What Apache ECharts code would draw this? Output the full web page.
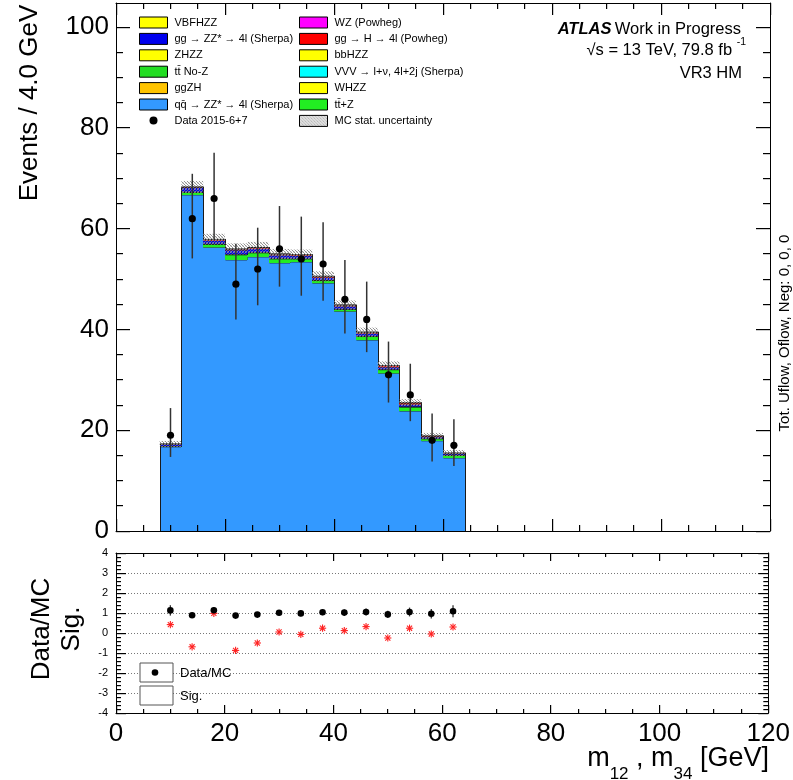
<!DOCTYPE html>
<html><head><meta charset="utf-8">
<script src="https://cdn.jsdelivr.net/npm/echarts@6/dist/echarts.min.js"></script>
<style>html,body{margin:0;padding:0;background:#fff}#c{width:793px;height:780px}</style>
</head><body><div id="c"></div>
<script>
// ---------------- data ----------------
const binLo = [8, 12, 16, 20, 24, 28, 32, 36, 40, 44, 48, 52, 56, 60];
const binWidth = 4;
const xTicks = [0, 20, 40, 60, 80, 100, 120];

// MC components (events per bin)
const qqZZ   = [16.7, 66.7, 56.3, 53.8, 54.4, 53.2, 53.4, 49.2, 43.6, 37.9, 31.3, 23.8, 17.9, 14.5];
const ttZ    = [0.15, 0.5, 0.6, 1.0, 0.8, 0.8, 0.6, 0.5, 0.4, 0.7, 0.7, 0.8, 0.4, 0.5];
const ttNoZ  = [0.02, 0.08, 0.08, 0.08, 0.08, 0.08, 0.06, 0.06, 0.05, 0.06, 0.06, 0.06, 0.04, 0.04];
const VVV    = [0.01, 0.02, 0.02, 0.02, 0.02, 0.02, 0.02, 0.02, 0.02, 0.02, 0.02, 0.02, 0.01, 0.01];
const ggZH   = [0.00, 0.01, 0.01, 0.01, 0.01, 0.01, 0.01, 0.01, 0.01, 0.01, 0.01, 0.01, 0.01, 0.01];
const WHZZ   = [0.00, 0.01, 0.01, 0.01, 0.01, 0.01, 0.01, 0.01, 0.01, 0.01, 0.01, 0.01, 0.01, 0.01];
const bbHZZ  = [0.00, 0.01, 0.01, 0.01, 0.01, 0.01, 0.01, 0.01, 0.01, 0.01, 0.01, 0.01, 0.01, 0.01];
const ZHZZ   = [0.00, 0.01, 0.01, 0.01, 0.01, 0.01, 0.01, 0.01, 0.01, 0.01, 0.01, 0.01, 0.01, 0.01];
const ggZZ   = [0.35, 0.8, 0.6, 0.8, 0.7, 0.6, 0.5, 0.5, 0.5, 0.5, 0.4, 0.4, 0.25, 0.2];
const ggH    = [0.02, 0.1, 0.2, 0.2, 0.2, 0.2, 0.2, 0.2, 0.2, 0.2, 0.3, 0.3, 0.2, 0.15];
const WZ     = [0.02, 0.03, 0.03, 0.03, 0.03, 0.03, 0.03, 0.03, 0.03, 0.03, 0.03, 0.03, 0.02, 0.02];
const VBFHZZ = [0.00, 0.01, 0.01, 0.01, 0.01, 0.01, 0.01, 0.01, 0.01, 0.01, 0.01, 0.01, 0.01, 0.01];
const mcStatErr = [0.6, 1.2, 1.1, 1.1, 1.1, 1.0, 1.0, 1.0, 0.9, 0.9, 0.8, 0.7, 0.6, 0.6];

// Data
const dataCounts = [19, 62, 66, 49, 52, 56, 54, 53, 46, 42, 31, 27, 18, 17];
const dataErrLo  = [4.3, 7.9, 8.1, 7.0, 7.2, 7.5, 7.3, 7.3, 6.8, 6.5, 5.5, 5.2, 4.2, 4.1];
const dataErrHi  = [5.4, 8.9, 9.1, 8.0, 8.2, 8.5, 8.4, 8.3, 7.8, 7.5, 6.6, 6.2, 5.3, 5.2];

// Ratio panel
const ratioDataMC = [1.13, 0.89, 1.14, 0.87, 0.92, 1.01, 0.98, 1.04, 1.02, 1.05, 0.93, 1.05, 0.96, 1.09];
const ratioErr    = [0.26, 0.12, 0.15, 0.13, 0.13, 0.14, 0.14, 0.15, 0.16, 0.18, 0.18, 0.22, 0.24, 0.30];
const significance = [0.42, -0.69, 0.98, -0.87, -0.50, 0.05, -0.07, 0.24, 0.12, 0.32, -0.25, 0.24, -0.05, 0.30];

// Axis ranges / tick steps
const X_MIN = 0, X_MAX = 120, X_MAJOR = 20, X_MINOR = 5;
const Y_MAIN_MAX = 104.8;
const R_MIN = -4, R_MAX = 4, R_MAJOR = 1, R_MINOR = 0.2;

// Legend labels
const N_VBF = 'VBFHZZ', N_GGZZ = 'gg → ZZ* → 4l (Sherpa)', N_ZH = 'ZHZZ', N_TTNOZ = 'tt\u0304 No-Z',
      N_GGZH = 'ggZH', N_QQZZ = 'qq\u0304 → ZZ* → 4l (Sherpa)', N_WZ = 'WZ (Powheg)',
      N_GGH = 'gg → H → 4l (Powheg)', N_BBH = 'bbHZZ', N_VVV = 'VVV → l+ν, 4l+2j (Sherpa)',
      N_WH = 'WHZZ', N_TTZ = 'tt\u0304+Z', N_DATA = 'Data 2015-6+7', N_STAT = 'MC stat. uncertainty';

// ---------------- styling ----------------
const FONT = '"Liberation Sans", Arial, Helvetica, sans-serif';
const components = [ // bottom -> top
  {name: N_QQZZ, vals: qqZZ, color: '#3399ff'},
  {name: N_TTZ, vals: ttZ, color: '#22ee22'},
  {name: N_TTNOZ, vals: ttNoZ, color: '#22dd22'},
  {name: N_VVV, vals: VVV, color: '#00ffff'},
  {name: N_GGZH, vals: ggZH, color: '#ffc400'},
  {name: N_WH, vals: WHZZ, color: '#ffff00'},
  {name: N_BBH, vals: bbHZZ, color: '#ffff00'},
  {name: N_ZH, vals: ZHZZ, color: '#ffff00'},
  {name: N_GGZZ, vals: ggZZ, color: '#0000ee'},
  {name: N_GGH, vals: ggH, color: '#ff0000'},
  {name: N_WZ, vals: WZ, color: '#ff00ff'},
  {name: N_VBF, vals: VBFHZZ, color: '#ffff00'}
];

// hatch pattern for stat. uncertainty
const pc = document.createElement('canvas');
pc.width = 3; pc.height = 3;
const pctx = pc.getContext('2d');
pctx.fillStyle = 'rgba(120,120,120,0.8)';
pctx.fillRect(0,0,1,1); pctx.fillRect(1,1,1,1); pctx.fillRect(2,2,1,1);
pctx.fillStyle = 'rgba(205,205,205,0.55)';
pctx.fillRect(2,0,1,1); pctx.fillRect(0,2,1,1);
const hatch = {image: pc, repeat: 'repeat'};

function stepRender(params, api) {
  const x0 = api.value(0), x1 = api.value(1), y0 = api.value(2), y1 = api.value(3);
  const prevTop = api.value(4), nextTop = api.value(5), isLast = api.value(6);
  const a = api.coord([x0, y0]), b = api.coord([x1, y1]);
  const ax = Math.round(a[0]), bx = Math.round(b[0]);
  const pPrev = api.coord([x0, prevTop]);
  const pts = [[ax + 0.5, pPrev[1]], [ax + 0.5, b[1]], [bx + 0.5, b[1]]];
  if (isLast) pts.push([bx + 0.5, api.coord([x1, nextTop])[1]]);
  return {type: 'group', children: [
    {type: 'rect', shape: {x: ax, y: b[1], width: bx - ax + 0.6, height: a[1] - b[1]},
     style: {fill: api.visual('color')}},
    {type: 'polyline', shape: {points: pts}, style: {stroke: '#1a1a1a', lineWidth: 0.8, fill: null}}
  ]};
}

const series = [];
let base = binLo.map(() => 0);
components.forEach(c => {
  const tops = base.map((b, i) => b + c.vals[i]);
  const data = binLo.map((x, i) => [x, x + binWidth, base[i], tops[i],
    i === 0 ? 0 : tops[i - 1], 0, i === binLo.length - 1 ? 1 : 0]);
  series.push({type: 'custom', name: c.name, xAxisIndex: 0, yAxisIndex: 0,
    itemStyle: {color: c.color}, renderItem: stepRender, data: data,
    encode: {x: [0, 1], y: [2, 3]}, z: 2});
  base = tops;
});
const total = base;

series.push({type: 'custom', name: N_STAT, xAxisIndex: 0, yAxisIndex: 0, itemStyle: {color: hatch}, z: 3,
  data: binLo.map((x, i) => [x, x + binWidth, total[i] - mcStatErr[i], total[i] + mcStatErr[i]]),
  encode: {x: [0, 1], y: [2, 3]},
  renderItem: (p, api) => {
    const a = api.coord([api.value(0), api.value(2)]), b = api.coord([api.value(1), api.value(3)]);
    return {type: 'rect', shape: {x: a[0], y: b[1], width: b[0] - a[0], height: a[1] - b[1]},
      style: {fill: hatch}};
  }});

series.push({type: 'custom', name: N_DATA, xAxisIndex: 0, yAxisIndex: 0, itemStyle: {color: '#000'}, z: 5,
  data: binLo.map((x, i) => [x + binWidth / 2, dataCounts[i], dataErrLo[i], dataErrHi[i]]),
  encode: {x: 0, y: 1},
  renderItem: (p, api) => {
    const x = api.value(0), y = api.value(1);
    const c = api.coord([x, y]), lo = api.coord([x, y - api.value(2)]), hi = api.coord([x, y + api.value(3)]);
    return {type: 'group', children: [
      {type: 'line', shape: {x1: c[0], y1: lo[1], x2: c[0], y2: hi[1]}, style: {stroke: '#333', lineWidth: 1.5}},
      {type: 'circle', shape: {cx: c[0], cy: c[1], r: 3.6}, style: {fill: '#000'}}
    ]};
  }});

series.push({type: 'custom', name: 'Data/MC', xAxisIndex: 2, yAxisIndex: 2, z: 5,
  data: binLo.map((x, i) => [x + binWidth / 2, ratioDataMC[i], ratioErr[i]]),
  encode: {x: 0, y: 1},
  renderItem: (p, api) => {
    const x = api.value(0), y = api.value(1), e = api.value(2);
    const c = api.coord([x, y]), lo = api.coord([x, y - e]), hi = api.coord([x, y + e]);
    return {type: 'group', children: [
      {type: 'line', shape: {x1: c[0], y1: lo[1], x2: c[0], y2: hi[1]}, style: {stroke: '#333', lineWidth: 1.3}},
      {type: 'circle', shape: {cx: c[0], cy: c[1], r: 3.3}, style: {fill: '#000'}}
    ]};
  }});

function starShape(cx, cy, s, color) {
  const d = s * 0.707;
  return [
    {type: 'line', shape: {x1: cx - s, y1: cy, x2: cx + s, y2: cy}, style: {stroke: color, lineWidth: 1.1}},
    {type: 'line', shape: {x1: cx, y1: cy - s, x2: cx, y2: cy + s}, style: {stroke: color, lineWidth: 1.1}},
    {type: 'line', shape: {x1: cx - d, y1: cy - d, x2: cx + d, y2: cy + d}, style: {stroke: color, lineWidth: 1.1}},
    {type: 'line', shape: {x1: cx - d, y1: cy + d, x2: cx + d, y2: cy - d}, style: {stroke: color, lineWidth: 1.1}}
  ];
}
series.push({type: 'custom', name: 'Sig.', xAxisIndex: 2, yAxisIndex: 2, z: 4,
  data: binLo.map((x, i) => [x + binWidth / 2, significance[i]]),
  encode: {x: 0, y: 1},
  renderItem: (p, api) => {
    const c = api.coord([api.value(0), api.value(1)]);
    return {type: 'group', children: starShape(c[0], c[1], 3.6, '#ff2020')};
  }});

// ---------------- tick marks (inward, mirrored, positioned through the axes) ----------------
function tickValues(lo, hi, step, majorStep) {
  const out = [];
  const n = Math.round((hi - lo) / step);
  for (let k = 0; k <= n; k++) {
    const v = +(lo + k * step).toFixed(6);
    const r = v / majorStep;
    out.push([v, Math.abs(r - Math.round(r)) < 1e-6 ? 1 : 0]);
  }
  return out;
}
// one item per panel; draws x ticks (bottom+top) and y ticks (left+right) as 1-px filled bars
function tickSeries(xi, yi, yLo, yHi, yStep, yMajor, yMaxTick, L) {
  const xt = tickValues(X_MIN, X_MAX, X_MINOR, X_MAJOR);
  const yt = tickValues(yLo, yMaxTick, yStep, yMajor);
  return {type: 'custom', xAxisIndex: xi, yAxisIndex: yi, silent: true, z: 9,
    data: [[X_MIN, yLo]], encode: {x: 0, y: 1},
    renderItem: (p, api) => {
      const kids = [];
      const bottom = api.coord([X_MIN, yLo])[1], top = api.coord([X_MIN, yHi])[1];
      const left = api.coord([X_MIN, yLo])[0], right = api.coord([X_MAX, yLo])[0];
      xt.forEach(t => {
        const x = Math.floor(api.coord([t[0], yLo])[0]);
        const len = t[1] ? L.xMaj : L.xMin;
        kids.push({type: 'rect', shape: {x: x, y: bottom - len, width: 1.2, height: len}, style: {fill: '#000'}});
        kids.push({type: 'rect', shape: {x: x, y: top, width: 1.2, height: len}, style: {fill: '#000'}});
      });
      yt.forEach(t => {
        const y = Math.floor(api.coord([X_MIN, t[0]])[1]);
        const len = t[1] ? L.yMaj : L.yMin;
        kids.push({type: 'rect', shape: {x: left, y: y, width: len, height: 1.2}, style: {fill: '#000'}});
        kids.push({type: 'rect', shape: {x: right - len, y: y, width: len, height: 1.2}, style: {fill: '#000'}});
      });
      return {type: 'group', children: kids};
    }};
}
series.push(tickSeries(0, 0, 0, Y_MAIN_MAX, 5, 20, 100, {xMaj: 12, xMin: 6, yMaj: 14, yMin: 7}));
series.push(tickSeries(2, 2, R_MIN, R_MAX, R_MINOR, R_MAJOR, R_MAX, {xMaj: 8, xMin: 4, yMaj: 10, yMin: 5}));

// ---------------- axes ----------------
function xAx(grid, pos, labels) {
  return {type: 'value', gridIndex: grid, position: pos, min: X_MIN, max: X_MAX, interval: X_MAJOR,
    axisLine: {show: true, onZero: false, lineStyle: {color: '#000', width: 1}},
    axisTick: {show: false}, minorTick: {show: false},
    axisLabel: labels ? {show: true, fontSize: 26, fontFamily: FONT, color: '#000', margin: 8,
      hideOverlap: false, formatter: v => (xTicks.indexOf(v) >= 0 ? String(v) : '')} : {show: false},
    splitLine: {show: false}};
}
function yAx(grid, pos, extra) {
  return Object.assign({type: 'value', gridIndex: grid, position: pos,
    axisLine: {show: true, onZero: false, lineStyle: {color: '#000', width: 1}},
    axisTick: {show: false}, minorTick: {show: false},
    splitLine: {show: false}}, extra);
}
const yAxes = [
  yAx(0, 'left', {min: 0, max: Y_MAIN_MAX, interval: 20,
    axisLabel: {show: true, fontSize: 26, fontFamily: FONT, color: '#000', margin: 7, showMaxLabel: false, hideOverlap: false}}),
  yAx(0, 'right', {min: 0, max: Y_MAIN_MAX, interval: 20, axisLabel: {show: false}}),
  yAx(1, 'left', {min: R_MIN, max: R_MAX, interval: R_MAJOR,
    axisLabel: {show: true, fontSize: 11, fontFamily: FONT, color: '#000', margin: 8, hideOverlap: false},
    splitLine: {show: true, lineStyle: {color: '#777', type: [1, 2], width: 1}}}),
  yAx(1, 'right', {min: R_MIN, max: R_MAX, interval: R_MAJOR, axisLabel: {show: false}})
];

const legendCommon = {orient: 'vertical', itemWidth: 28, itemHeight: 11, itemGap: 4.4, padding: 0,
  selectedMode: false, icon: 'rect',
  itemStyle: {borderColor: '#000', borderWidth: 1},
  textStyle: {fontSize: 11, fontFamily: FONT, color: '#000', lineHeight: 11, padding: [0, 0, 0, 2]}};

const option = {
  animation: false,
  backgroundColor: '#fff',
  grid: [
    {left: 116, top: 3, width: 654, height: 528, show: false, containLabel: false},
    {left: 116, top: 553, width: 654, height: 160, show: false, containLabel: false}
  ],
  xAxis: [xAx(0, 'bottom', false), xAx(0, 'top', false), xAx(1, 'bottom', true), xAx(1, 'top', false)],
  yAxis: yAxes,
  legend: [
    Object.assign({}, legendCommon, {left: 139, top: 16.5,
      data: [N_VBF, N_GGZZ, N_ZH, N_TTNOZ, N_GGZH, N_QQZZ]}),
    Object.assign({}, legendCommon, {left: 299, top: 16.5,
      data: [N_WZ, N_GGH, N_BBH, N_VVV, N_WH, N_TTZ, N_STAT]}),
    {orient: 'vertical', left: 149.5, top: 115, itemWidth: 8, itemHeight: 8, padding: 0, selectedMode: false,
     icon: 'circle', data: [N_DATA],
     textStyle: {fontSize: 11, fontFamily: FONT, color: '#000', padding: [0, 0, 0, 12]}}
  ],
  series: series,
  graphic: [
    {type: 'text', x: 30, y: 103, rotation: Math.PI / 2,
     style: {text: 'Events / 4.0 GeV', fontSize: 26, fontFamily: FONT, fill: '#000', align: 'center', verticalAlign: 'middle'}},
    {type: 'text', x: 42, y: 629, rotation: Math.PI / 2,
     style: {text: 'Data/MC', fontSize: 26, fontFamily: FONT, fill: '#000', align: 'center', verticalAlign: 'middle'}},
    {type: 'text', x: 72, y: 629, rotation: Math.PI / 2,
     style: {text: 'Sig.', fontSize: 26, fontFamily: FONT, fill: '#000', align: 'center', verticalAlign: 'middle'}},
    {type: 'text', x: 769, y: 745,
     style: {text: '{n|m}{s|12}{n| , m}{s|34}{n| [GeV]}', align: 'right', verticalAlign: 'top',
       fill: '#000', fontFamily: FONT,
       rich: {n: {fontSize: 27, lineHeight: 38, verticalAlign: 'top', fontFamily: FONT},
              s: {fontSize: 17, lineHeight: 17, verticalAlign: 'bottom', fontFamily: FONT}}}},
    {type: 'text', x: 785, y: 333, rotation: Math.PI / 2,
     style: {text: 'Tot. Uflow, Oflow, Neg: 0, 0, 0', fontSize: 15, fontFamily: FONT, fill: '#000', align: 'center', verticalAlign: 'middle'}},
    {type: 'text', x: 741, y: 29,
     style: {text: '{b|ATLAS} {t|Work in Progress}', align: 'right', verticalAlign: 'middle', fill: '#000',
       rich: {b: {fontSize: 16.5, fontWeight: 'bold', fontStyle: 'italic', fontFamily: FONT},
              t: {fontSize: 16.5, fontFamily: FONT}}}},
    {type: 'text', x: 746, y: 37,
     style: {text: '{t|\u221As = 13 TeV, 79.8 fb }{u|-1}', align: 'right', verticalAlign: 'top', fill: '#000',
       rich: {t: {fontSize: 16.5, lineHeight: 22, verticalAlign: 'bottom', fontFamily: FONT},
              u: {fontSize: 10.5, lineHeight: 10, verticalAlign: 'top', fontFamily: FONT}}}},
    {type: 'text', x: 742, y: 73,
     style: {text: 'VR3 HM', fontSize: 16.5, fontFamily: FONT, fill: '#000', align: 'right', verticalAlign: 'middle'}},
    // ratio legend
    {type: 'rect', shape: {x: 140, y: 663, width: 33, height: 19}, style: {fill: '#fff', stroke: '#555', lineWidth: 1}, z: 10},
    {type: 'circle', shape: {cx: 155, cy: 672.5, r: 3.3}, style: {fill: '#000'}, z: 11},
    {type: 'text', x: 180, y: 673, style: {text: 'Data/MC', fontSize: 13, fontFamily: FONT, fill: '#000', verticalAlign: 'middle'}, z: 11},
    {type: 'rect', shape: {x: 140, y: 686, width: 33, height: 19}, style: {fill: '#fff', stroke: '#555', lineWidth: 1}, z: 10},
    {type: 'group', children: starShape(155, 695.5, 3.6, '#ff2020'), z: 11},
    {type: 'text', x: 180, y: 696, style: {text: 'Sig.', fontSize: 13, fontFamily: FONT, fill: '#000', verticalAlign: 'middle'}, z: 11}
  ]
};

const chart = echarts.init(document.getElementById('c'), null, {renderer: 'canvas'});
chart.setOption(option);
</script>
</body></html>
